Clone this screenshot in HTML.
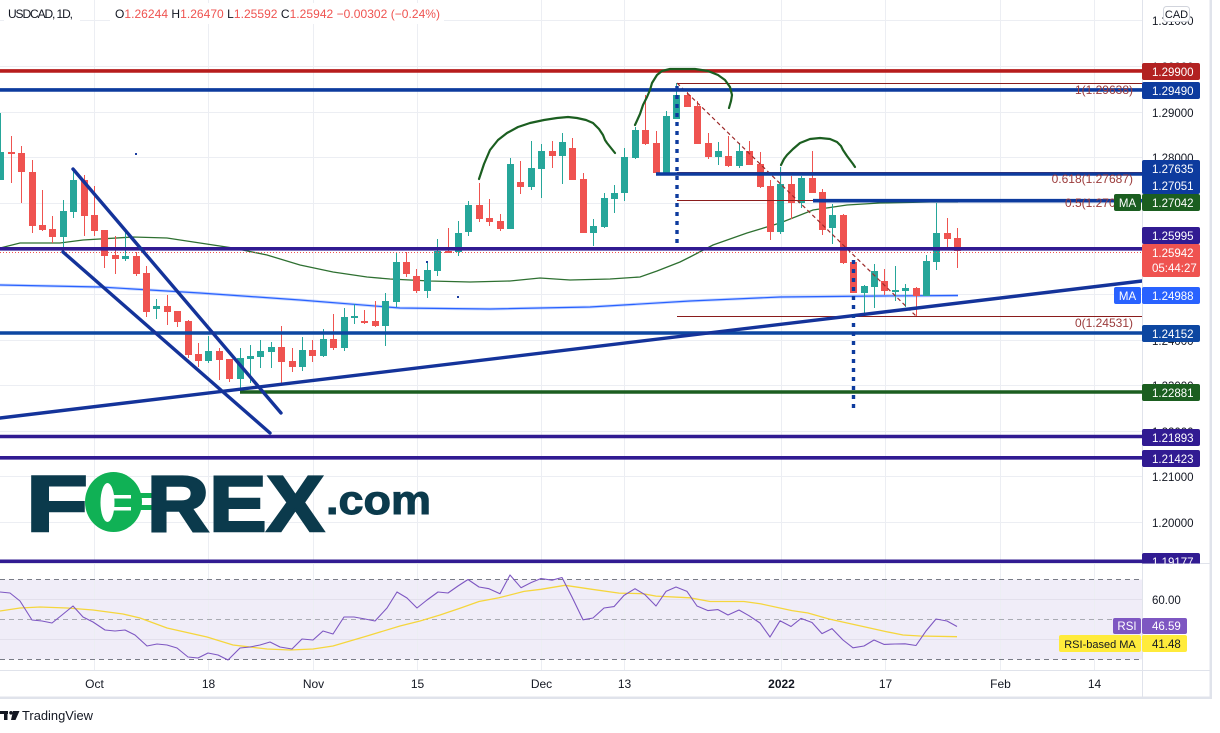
<!DOCTYPE html>
<html><head><meta charset="utf-8"><style>
html,body{margin:0;padding:0;background:#fff;}
svg{display:block;font-family:"Liberation Sans",Arial,sans-serif;}
</style></head><body>
<svg width="1220" height="733" viewBox="0 0 1220 733" xmlns="http://www.w3.org/2000/svg">
<defs>
<clipPath id="mainc"><rect x="0" y="0" width="1210" height="563.5"/></clipPath>
<clipPath id="plotc"><rect x="0" y="0" width="1142" height="563.5"/></clipPath>
</defs>
<rect width="1220" height="733" fill="#fff"/>

<!-- RSI band -->
<rect x="0" y="579.5" width="1142" height="80" fill="#f0edf8"/>

<!-- grid -->
<g stroke="#eceef3" stroke-width="1">
<path d="M0 20.5H1142M0 66.5H1142M0 112.5H1142M0 157.5H1142M0 203.5H1142M0 248.5H1142M0 294.5H1142M0 340.5H1142M0 385.5H1142M0 431.5H1142M0 476.5H1142M0 522.5H1142"/>
<path d="M94.5 0V670M208.5 0V670M313.5 0V670M417.5 0V670M541.5 0V670M624.5 0V670M781.5 0V670M885.5 0V670M1000.5 0V670M1094.5 0V670"/>
</g>
<g stroke="#e3e0ec" stroke-width="1"><path d="M0 599.5H1142M0 639.5H1142"/></g>
<!-- header white boxes -->
<rect x="4" y="3" width="76" height="21" fill="#fff"/>
<rect x="110" y="3" width="334" height="21" fill="#fff"/>

<g clip-path="url(#plotc)">
<!-- Moving averages -->
<polyline fill="none" stroke="#2962ff" stroke-opacity="0.25" stroke-width="3" points="0,285 100,287 200,293 300,300 400,308 490,309 590,307 690,301 780,297 880,296 958,295.5"/>
<polyline fill="none" stroke="#2962ff" stroke-width="1.2" points="0,285 100,287 200,293 300,300 400,308 490,309 590,307 690,301 780,297 880,296 958,295.5"/>
<polyline fill="none" stroke="#2e7031" stroke-width="1.3" points="0,248 20,243 60,243 83,240 133,237 167,238 200,243 233,248 267,255 300,265 333,272 367,277 390,279 430,281 470,282 510,281 540,278 570,280 610,279 640,277 657,271 680,262 690,257 713,245 747,233 780,223 813,210 847,205 880,203 930,202 958,202"/>

<!-- candles green -->
<path fill="none" stroke="#26a69a" stroke-width="1" d="M0.5 113V180M63.5 200V253M73.5 169V218M125.5 232V261M156.5 299V319M208.5 336V363M240.5 348V388M250.5 345V383M260.5 340V368M271.5 342V368M302.5 337V371M323.5 329V357M344.5 308V351M354.5 304V324M385.5 293V346M396.5 252V307M427.5 262V298M437.5 239V276M458.5 221V256M468.5 201V236M510.5 158V229M531.5 141V190M541.5 144V198M562.5 133V184M593.5 219V246M604.5 193V228M614.5 185V213M624.5 148V201M635.5 127V159M666.5 111V173M676.5 83V119M718.5 142V165M739.5 143V168M780.5 167V234M801.5 176V208M832.5 204V244M864.5 285V313M874.5 264V308M895.5 266V301M905.5 284V307M926.5 255V296M936.5 203V270"/>
<path fill="#26a69a" d="M-3 152h7v28h-7zM60 211h7v26h-7zM70 180h7v32h-7zM122 256h7v3h-7zM153 306h7v3h-7zM205 351h7v10h-7zM237 358h7v21h-7zM247 356h7v3h-7zM257 351h7v6h-7zM268 347h7v5h-7zM299 350h7v17h-7zM320 339h7v17h-7zM341 317h7v31h-7zM351 316h7v2h-7zM382 301h7v25h-7zM393 262h7v40h-7zM424 270h7v21h-7zM434 251h7v20h-7zM455 233h7v19h-7zM465 205h7v27h-7zM507 164h7v65h-7zM528 168h7v19h-7zM538 151h7v18h-7zM559 142h7v14h-7zM590 226h7v7h-7zM601 198h7v29h-7zM611 193h7v6h-7zM621 157h7v36h-7zM632 130h7v28h-7zM663 116h7v57h-7zM673 95h7v24h-7zM715 151h7v6h-7zM736 151h7v15h-7zM777 184h7v48h-7zM798 178h7v25h-7zM829 215h7v13h-7zM861 286h7v7h-7zM871 271h7v16h-7zM892 290h7v2h-7zM902 288h7v3h-7zM923 261h7v35h-7zM933 233h7v29h-7z"/>
<!-- candles red -->
<path fill="none" stroke="#ef5350" stroke-width="1" d="M11.5 136V183M21.5 146V203M32.5 160V233M42.5 190V231M52.5 216V243M84.5 175V236M94.5 186V236M104.5 230V268M115.5 236V274M136.5 252V276M146.5 266V317M167.5 295V325M177.5 311V327M188.5 320V358M198.5 343V367M219.5 348V380M229.5 359V382M281.5 326V383M292.5 348V372M312.5 340V362M333.5 314V350M364.5 310V324M375.5 301V327M406.5 252V277M416.5 269V293M448.5 228V252M479.5 183V222M489.5 199V226M500.5 214V231M520.5 161V194M552.5 141V168M572.5 138V180M583.5 173V233M645.5 95V145M656.5 131V173M687.5 92V107M697.5 101V144M708.5 133V159M728.5 136V167M749.5 141V165M760.5 152V188M770.5 180V240M791.5 176V219M812.5 151V193M822.5 189V235M843.5 214V264M853.5 262V293M884.5 269V295M916.5 287V317M947.5 218V247M957.5 228V268"/>
<path fill="#ef5350" d="M8 152h7v2h-7zM18 153h7v19h-7zM29 172h7v54h-7zM39 225h7v5h-7zM49 229h7v8h-7zM81 180h7v36h-7zM91 215h7v16h-7zM101 230h7v26h-7zM112 255h7v4h-7zM133 256h7v18h-7zM143 273h7v39h-7zM164 306h7v6h-7zM174 311h7v11h-7zM185 321h7v34h-7zM195 354h7v7h-7zM216 351h7v9h-7zM226 359h7v20h-7zM278 347h7v15h-7zM289 361h7v6h-7zM309 350h7v6h-7zM330 339h7v9h-7zM361 321h7v2h-7zM372 321h7v5h-7zM403 262h7v12h-7zM413 276h7v15h-7zM445 251h7v2h-7zM476 205h7v14h-7zM486 218h7v4h-7zM497 221h7v8h-7zM517 182h7v5h-7zM549 151h7v5h-7zM569 148h7v32h-7zM580 179h7v54h-7zM642 130h7v14h-7zM653 143h7v30h-7zM684 95h7v12h-7zM694 106h7v38h-7zM705 143h7v14h-7zM725 156h7v10h-7zM746 151h7v14h-7zM757 164h7v23h-7zM767 186h7v46h-7zM788 184h7v19h-7zM809 178h7v15h-7zM819 192h7v38h-7zM840 215h7v48h-7zM850 262h7v31h-7zM881 281h7v10h-7zM913 288h7v8h-7zM944 233h7v6h-7zM954 238h7v13h-7z"/>

<!-- current price dotted -->
<line x1="0" y1="252.5" x2="1142" y2="252.5" stroke="#ef5350" stroke-width="1" stroke-dasharray="1 2"/>

<!-- fib lines -->
<g stroke="#8a1c1c" stroke-width="1">
<line x1="677" y1="83.5" x2="1142" y2="83.5"/>
<line x1="677" y1="172.5" x2="1142" y2="172.5"/>
<line x1="677" y1="200.5" x2="1142" y2="200.5"/>
<line x1="677" y1="316.5" x2="1142" y2="316.5"/>
</g>
<line x1="677" y1="83" x2="916" y2="316" stroke="#9c2a2a" stroke-width="1.2" stroke-dasharray="4 3"/>

<!-- horizontal levels -->
<g stroke-width="3.6">
<line x1="0" y1="70.9" x2="1142" y2="70.9" stroke="#b71c1c"/>
<line x1="0" y1="89.9" x2="1142" y2="89.9" stroke="#0d3b9e"/>
<line x1="656" y1="174" x2="1142" y2="174" stroke="#0d3b9e"/>
<line x1="813" y1="200.7" x2="1142" y2="200.7" stroke="#0d3b9e"/>
<line x1="0" y1="248.8" x2="1142" y2="248.8" stroke="#311b92"/>
<line x1="0" y1="333" x2="1142" y2="333" stroke="#0d47a1"/>
<line x1="240" y1="392" x2="1142" y2="392" stroke="#1b5e20"/>
<line x1="0" y1="436.5" x2="1142" y2="436.5" stroke="#311b92"/>
<line x1="0" y1="457.8" x2="1142" y2="457.8" stroke="#311b92"/>
<line x1="0" y1="561.3" x2="1142" y2="561.3" stroke="#311b92"/>
</g>

<!-- trend lines -->
<g stroke="#14339a" stroke-width="3.4" stroke-linecap="round">
<line x1="73" y1="169" x2="281" y2="413"/>
<line x1="63" y1="252" x2="270" y2="433"/>
<line x1="0" y1="418" x2="1142" y2="281"/>
</g>

<!-- vertical dotted -->
<g stroke="#0d3b9e" stroke-width="3.4" stroke-dasharray="4 5">
<line x1="677" y1="86" x2="677" y2="248"/>
<line x1="853.5" y1="260" x2="853.5" y2="412"/>
</g>

<!-- hand drawn arcs -->
<g fill="none" stroke="#1b5e20" stroke-width="2.2" stroke-linejoin="round" stroke-linecap="round">
<polyline points="479,179 484,164 490,150 498,140 507,133 518,127 530,123 544,120 557,118 568,117 577,118 586,120 593,123 599,129 603,135 605,140 607,143 611,148 615,153"/>
<polyline points="635,125 640,114 643,105 647,97 650,90 652,83 657,75 662,71 670,69 680,69 695,69 708,71 718,75 725,80 730,87 732,95 731,101 729,108"/>
<polyline points="781,165 784,159 787,155 793,149 800,143 810,139 820,138 830,139 837,142 841,146 843,150 847,156 850,160 853,164 855,167"/>
</g>

<!-- small dots -->
<g fill="#1a3da0">
<rect x="135" y="153" width="2" height="2"/>
<rect x="426" y="261" width="2" height="2"/>
<rect x="457" y="296" width="2" height="2"/>
</g>

<!-- fib labels -->
<g fill="#9b3b3b" font-size="12" text-anchor="end">
<text x="1133" y="94">1(1.29638)</text>
<text x="1133" y="183">0.618(1.27687)</text>
<text x="1133" y="207">0.5(1.27042)</text>
<text x="1133" y="327">0(1.24531)</text>
</g>
</g>

<!-- FOREX.com logo -->
<g>
<text x="26" y="531" font-size="79" font-weight="bold" fill="#0b3a4c" stroke="#0b3a4c" stroke-width="2.5" textLength="62" lengthAdjust="spacingAndGlyphs">F</text>
<ellipse cx="113.5" cy="502" rx="28.5" ry="30" fill="#10b155"/>
<ellipse cx="107.5" cy="502.5" rx="7" ry="19.5" fill="#fff"/>
<rect x="113" y="495" width="18" height="3.5" fill="#fff"/>
<rect x="113" y="507" width="18" height="3.5" fill="#fff"/>
<rect x="140" y="493" width="12" height="5" fill="#10b155"/>
<rect x="140" y="505" width="12" height="5" fill="#10b155"/>
<text x="147" y="531" font-size="79" font-weight="bold" fill="#0b3a4c" stroke="#0b3a4c" stroke-width="2.5" textLength="177" lengthAdjust="spacingAndGlyphs">REX</text>
<text x="326" y="514" font-size="41" font-weight="bold" fill="#0b3a4c" stroke="#0b3a4c" stroke-width="1" textLength="105" lengthAdjust="spacingAndGlyphs">.com</text>
</g>

<!-- RSI pane -->
<g stroke-width="1" stroke-dasharray="5 4">
<line x1="0" y1="579.5" x2="1142" y2="579.5" stroke="#787b86"/>
<line x1="0" y1="619.5" x2="1142" y2="619.5" stroke="#a9abb3"/>
<line x1="0" y1="659.5" x2="1142" y2="659.5" stroke="#787b86"/>
</g>
<polyline fill="none" stroke="#f5d63d" stroke-width="1.3" points="0,611 20,608 40,607 67,608 93,610 123,614 140,618 167,628 207,637 233,645 267,649 290,650 313,649 333,646 367,636 400,626 420,621 440,615 460,608.3 479,601.5 499,597.8 524,591.4 541,589.3 565,585.3 592,589.3 619,593.1 643,593.7 656,596.1 690,597.8 710,601.5 744,601.5 761,603.9 792,610.6 808,613 829,619 863,626.5 886,631.6 903,635 920,636 957,636.7"/>
<polyline fill="none" stroke="#7e57c2" stroke-width="1.1" stroke-linejoin="round" points="0,592 10,593 20,601 32,620 42,621 52,623 62,615 73,606 83,617 93,622 105,630 115,631 125,630 135,635 147,646 157,644 167,645 177,648 188,657 198,658 208,653 218,655 228,660 240,648 250,647 260,645 270,642 280,647 292,649 302,639 313,640 323,631 333,634 344,617 354,617 365,619 375,621 387,608 397,592 407,598 417,608 427,600 438,592 448,593 458,586 468,579.5 479,587 489,588.7 500,593.7 510,575 521,587.7 531,582.6 541,578.5 552,580.2 562,577.5 572,597 583,619.8 593,618 604,608 614,606.6 624,595.4 635,588.7 645,594.7 656,606 666,591.4 676,587 687,591.4 697,606 708,610.6 718,609.6 728,615 739,610 749,615.7 760,623 770,637 780,620.8 791,626.5 801,618.4 812,622.5 822,633.6 832,628.6 843,640 853,647.8 864,646 874,640 884,644.4 895,644 905,643.8 916,645.5 926,631 936,619 947,621 957,626.5"/>

<!-- right axis background & borders -->
<rect x="1142.5" y="0" width="67.5" height="697" fill="#fff"/>
<g stroke="#e0e3eb" stroke-width="1">
<line x1="1142.5" y1="0" x2="1142.5" y2="697"/>
<line x1="0" y1="563.5" x2="1210" y2="563.5"/>
<line x1="0" y1="670.5" x2="1210" y2="670.5"/>
</g>
<rect x="1209.5" y="0" width="2.5" height="699" fill="#e0e3eb"/>
<rect x="0" y="696.5" width="1212" height="2.5" fill="#e0e3eb"/>

<!-- axis price texts -->
<g font-size="11.5" fill="#131722">
<text x="1152" y="25">1.31000</text>
<text x="1152" y="71">1.30000</text>
<text x="1152" y="117">1.29000</text>
<text x="1152" y="162">1.28000</text>
<text x="1152" y="208">1.27000</text>
<text x="1152" y="253">1.26000</text>
<text x="1152" y="299">1.25000</text>
<text x="1152" y="345">1.24000</text>
<text x="1152" y="390">1.23000</text>
<text x="1152" y="436">1.22000</text>
<text x="1152" y="481">1.21000</text>
<text x="1152" y="527">1.20000</text>
<text x="1152" y="604">60.00</text>
</g>

<!-- CAD box -->
<rect x="1163.5" y="6.5" width="26" height="15" rx="3" fill="#fff" stroke="#d1d4dc"/>
<text x="1176.5" y="18" font-size="11" fill="#131722" text-anchor="middle">CAD</text>

<!-- price label boxes -->
<g clip-path="url(#mainc)" font-size="11.5" fill="#fff">
<rect x="1142" y="63" width="58" height="17" rx="2" fill="#b22222"/>
<text x="1152" y="76">1.29900</text>
<rect x="1142" y="82" width="58" height="17" rx="2" fill="#0d3b9e"/>
<text x="1152" y="95">1.29490</text>
<rect x="1142" y="160" width="58" height="34" rx="2" fill="#0d3b9e"/>
<text x="1152" y="173">1.27635</text>
<text x="1152" y="190">1.27051</text>
<rect x="1142" y="194" width="58" height="17" rx="2" fill="#1b5e20"/>
<text x="1152" y="207">1.27042</text>
<rect x="1114" y="194" width="27" height="17" rx="2" fill="#1b5e20"/>
<text x="1127.5" y="207" text-anchor="middle">MA</text>
<rect x="1142" y="227" width="58" height="17" rx="2" fill="#311b92"/>
<text x="1152" y="240">1.25995</text>
<rect x="1142" y="244" width="58" height="33" rx="2" fill="#ef5350"/>
<text x="1152" y="257">1.25942</text>
<text x="1152" y="272">05:44:27</text>
<rect x="1142" y="287" width="58" height="17" rx="2" fill="#2962ff"/>
<text x="1152" y="300">1.24988</text>
<rect x="1114" y="287" width="27" height="17" rx="2" fill="#2962ff"/>
<text x="1127.5" y="300" text-anchor="middle">MA</text>
<rect x="1142" y="325" width="58" height="17" rx="2" fill="#0d47a1"/>
<text x="1152" y="338">1.24152</text>
<rect x="1142" y="384" width="58" height="17" rx="2" fill="#1b5e20"/>
<text x="1152" y="397">1.22881</text>
<rect x="1142" y="429" width="58" height="17" rx="2" fill="#311b92"/>
<text x="1152" y="442">1.21893</text>
<rect x="1142" y="450" width="58" height="17" rx="2" fill="#311b92"/>
<text x="1152" y="463">1.21423</text>
<rect x="1142" y="553" width="58" height="17" rx="2" fill="#311b92"/>
<text x="1152" y="566">1.19177</text>
</g>

<!-- RSI labels -->
<g font-size="11.5">
<rect x="1113" y="618" width="28" height="16" rx="2" fill="#7e57c2"/>
<text x="1127" y="630" fill="#fff" text-anchor="middle">RSI</text>
<rect x="1142" y="618" width="45" height="16" rx="2" fill="#7e57c2"/>
<text x="1152" y="630" fill="#fff">46.59</text>
<rect x="1059" y="635" width="82" height="17" rx="2" fill="#ffeb3b"/>
<text x="1100" y="648" fill="#131722" text-anchor="middle" font-size="11">RSI-based MA</text>
<rect x="1142" y="635" width="45" height="17" rx="2" fill="#ffeb3b"/>
<text x="1152" y="648" fill="#131722">41.48</text>
</g>

<!-- time axis -->
<g font-size="12" fill="#131722" text-anchor="middle">
<text x="94.5" y="688">Oct</text>
<text x="208.5" y="688">18</text>
<text x="313.5" y="688">Nov</text>
<text x="417.5" y="688">15</text>
<text x="541.5" y="688">Dec</text>
<text x="624.5" y="688">13</text>
<text x="781.5" y="688" font-weight="bold">2022</text>
<text x="885.5" y="688">17</text>
<text x="1000.5" y="688">Feb</text>
<text x="1094.5" y="688">14</text>
</g>

<!-- header -->
<text x="8" y="18" font-size="12" fill="#131722" textLength="65" lengthAdjust="spacing">USDCAD, 1D,</text>
<text x="115" y="18" font-size="12" textLength="325" lengthAdjust="spacing"><tspan fill="#131722">O</tspan><tspan fill="#ef5350">1.26244</tspan><tspan fill="#131722">  H</tspan><tspan fill="#ef5350">1.26470</tspan><tspan fill="#131722">  L</tspan><tspan fill="#ef5350">1.25592</tspan><tspan fill="#131722">  C</tspan><tspan fill="#ef5350">1.25942  −0.00302 (−0.24%)</tspan></text>

<!-- TradingView logo -->
<g fill="#131722">
<rect x="0" y="711" width="8" height="3"/>
<rect x="4" y="711" width="3.5" height="9"/>
<circle cx="11" cy="712.8" r="1.8"/>
<polygon points="13,711 19.5,711 15.5,720 11,720"/>
</g>
<text x="22" y="720" font-size="13" fill="#131722" textLength="71" lengthAdjust="spacingAndGlyphs">TradingView</text>
</svg>
</body></html>
